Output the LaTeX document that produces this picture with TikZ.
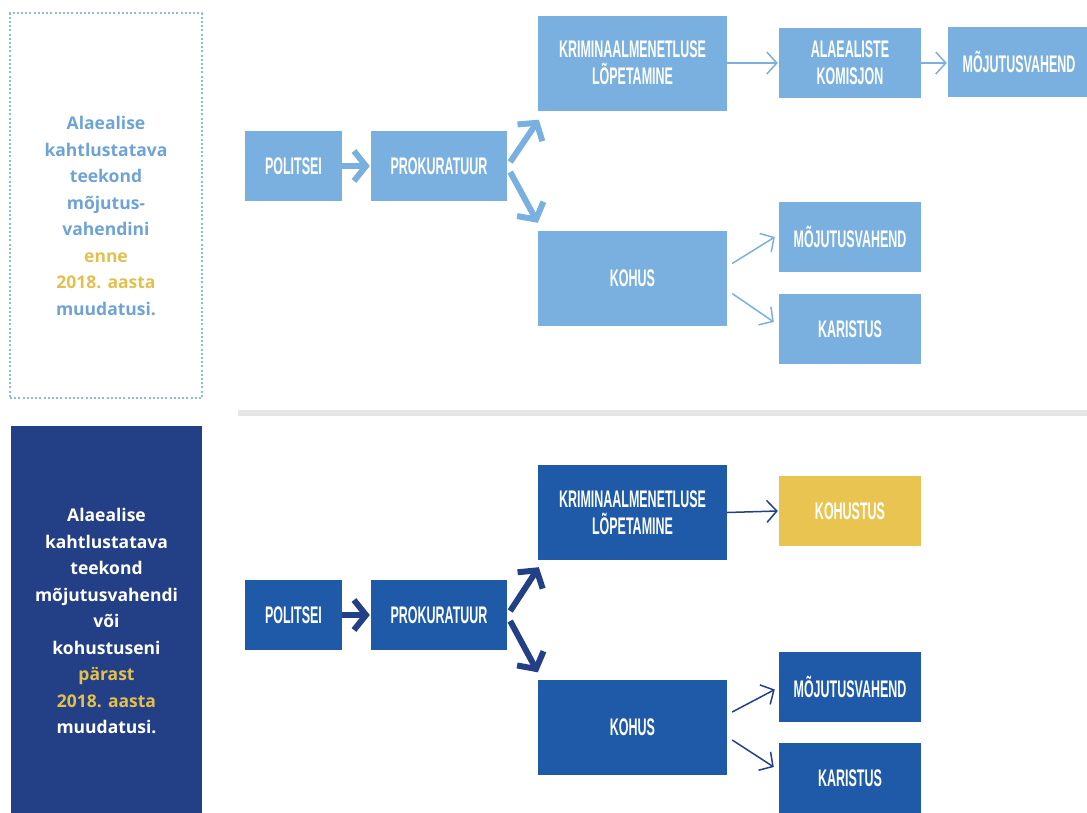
\documentclass[tikz,border=0pt]{standalone}
\usepackage{fontspec}
\usetikzlibrary{arrows.meta}
\newfontfamily\boxfont{Liberation Sans}[FakeStretch=0.52]
\newfontfamily\sidefont{Open Sans}
\definecolor{lblue}{HTML}{7AB0E0}
\definecolor{dblue}{HTML}{1E5AA8}
\definecolor{navy}{HTML}{233F86}
\definecolor{ylw}{HTML}{E9C450}
\definecolor{ltxt}{HTML}{6EA3D6}
\definecolor{ytxt}{HTML}{E3C04E}
\definecolor{sepgray}{HTML}{E6E6E6}
\definecolor{dotblue}{HTML}{8DBBE3}
\begin{document}
\begin{tikzpicture}[x=1pt,y=-1pt,
  box/.style={inner sep=0pt, text=white, align=center,
    font=\boxfont\bfseries\fontsize{24}{27}\selectfont},
  wide/.style={minimum width=189pt, minimum height=95pt},
  small/.style={minimum width=142pt, minimum height=70pt},
  polbox/.style={minimum width=97pt, minimum height=70pt},
  probox/.style={minimum width=136pt, minimum height=70pt},
  lb/.style={box, fill=lblue},
  db/.style={box, fill=dblue},
  yb/.style={box, fill=ylw},
  thickarrow/.style={line width=6pt, -{Straight Barb[length=12pt,width=30pt]}},
  thinarrow/.style={line width=1.5pt, -{Straight Barb[length=10pt,width=22pt]}},
  sidetext/.style={align=center, inner sep=0pt,
    font=\sidefont\bfseries\fontsize{17.5}{26.5}\selectfont}
]
\useasboundingbox (0,0) rectangle (1087,812);

% left panels
\node[draw=dotblue, line width=2pt, dash pattern=on 2pt off 2.2pt,
      minimum width=192pt, minimum height=385pt, inner sep=0pt] (panelA) at (106,205.5) {};
\node[sidetext, text=ltxt] (textA) at (106,216)
  {Alaealise\\kahtlustatava\\teekond\\mõjutus-\\vahendini\\
   \textcolor{ytxt}{enne}\\\textcolor{ytxt}{2018. aasta}\\muudatusi.};
\node[fill=navy, minimum width=191pt, minimum height=400pt, inner sep=0pt] (panelB) at (106.5,626) {};
\node[sidetext, text=white] (textB) at (106.5,621)
  {Alaealise\\kahtlustatava\\teekond\\mõjutusvahendi\\või\\kohustuseni\\
   \textcolor{ytxt}{pärast}\\\textcolor{ytxt}{2018. aasta}\\muudatusi.};

% separator
\coordinate (sepL) at (238,413);
\coordinate (sepR) at (1087,413);
\draw[sepgray, line width=6pt] (sepL) -- (sepR);

% top flow
\node[lb, polbox] (pol1) at (293.5,166) {POLITSEI};
\node[lb, probox] (pro1) at (439,166) {PROKURATUUR};
\node[lb, wide] (krim1) at (632.5,63) {KRIMINAALMENETLUSE\\LÕPETAMINE};
\node[lb, small] (ala1) at (850,63) {ALAEALISTE\\KOMISJON};
\node[lb, small] (moj1a) at (1019,62) {MÕJUTUSVAHEND};
\node[lb, wide] (koh1) at (632.5,278.5) {KOHUS};
\node[lb, small] (moj1b) at (850,237) {MÕJUTUSVAHEND};
\node[lb, small] (kar1) at (850,329) {KARISTUS};

\draw[thickarrow, lblue] (pol1.east) -- ([xshift=-1pt]pro1.west);
\draw[thickarrow, lblue] ([shift={(3,-4)}]pro1.east) -- ([shift={(1,9)}]krim1.south west);
\draw[thickarrow, lblue] ([shift={(3,6)}]pro1.east) -- ([shift={(0,-8)}]koh1.north west);
\draw[thinarrow, lblue] (krim1.east) -- ([xshift=-1pt]ala1.west);
\draw[thinarrow, lblue] (ala1.east |- ala1.center) -- ([xshift=-1pt]moj1a.west |- ala1.center);
\draw[thinarrow, lblue] ([shift={(5,-15)}]koh1.east) -- ([xshift=-4pt]moj1b.west);
\draw[thinarrow, lblue] ([shift={(5,15)}]koh1.east) -- ([shift={(-5,-7)}]kar1.west);

% bottom flow
\node[db, polbox] (pol2) at (293.5,615) {POLITSEI};
\node[db, probox] (pro2) at (439,615) {PROKURATUUR};
\node[db, wide] (krim2) at (632.5,512.5) {KRIMINAALMENETLUSE\\LÕPETAMINE};
\node[yb, small] (kohustus) at (850,511) {KOHUSTUS};
\node[db, wide] (koh2) at (632.5,727) {KOHUS};
\node[db, small] (moj2) at (850,686.5) {MÕJUTUSVAHEND};
\node[db, small] (kar2) at (850,778) {KARISTUS};

\draw[thickarrow, navy] (pol2.east) -- ([xshift=-1pt]pro2.west);
\draw[thickarrow, navy] ([shift={(3,-4)}]pro2.east) -- ([shift={(1,7)}]krim2.south west);
\draw[thickarrow, navy] ([shift={(3,6)}]pro2.east) -- ([shift={(0,-7)}]koh2.north west);
\draw[thinarrow, navy] (krim2.east) -- ([xshift=-1pt]kohustus.west);
\draw[thinarrow, navy] ([shift={(5,-15)}]koh2.east) -- ([shift={(-4,3)}]moj2.west);
\draw[thinarrow, navy] ([shift={(5,13)}]koh2.east) -- ([shift={(-5,-11)}]kar2.west);
\end{tikzpicture}
\end{document}
